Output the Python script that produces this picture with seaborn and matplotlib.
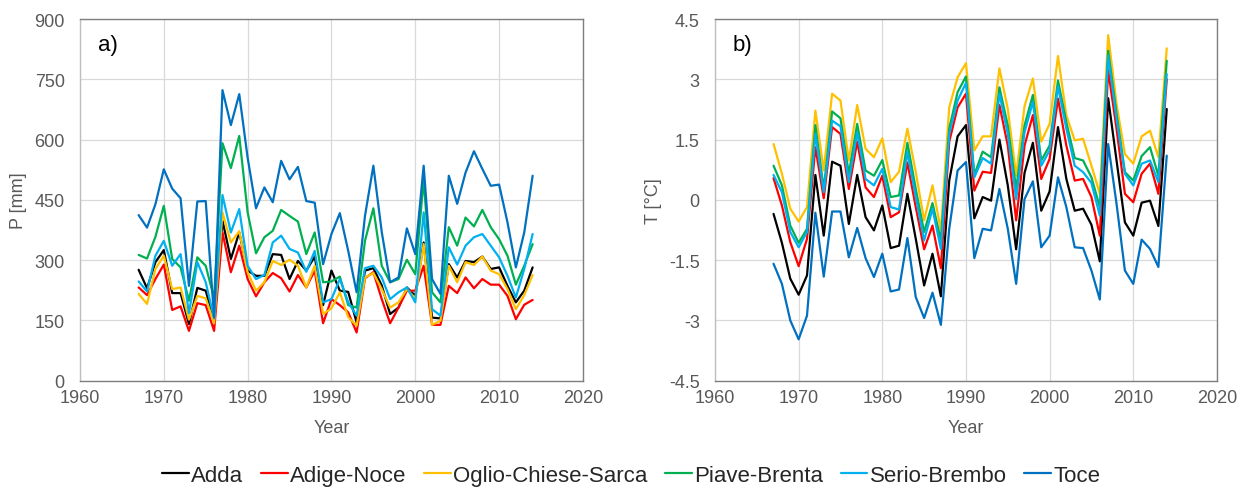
import numpy as np
import pandas as pd
import matplotlib
matplotlib.use("Agg")
import matplotlib.pyplot as plt
import seaborn as sns

years = list(range(1967, 2015))
basins = ["Adda", "Adige-Noce", "Oglio-Chiese-Sarca", "Piave-Brenta", "Serio-Brembo", "Toce"]
colors = ["#000000", "#FF0000", "#FFC000", "#00B050", "#00B0F0", "#0070C0"]

# Precipitation [mm]
p_adda = [276, 230, 295, 325, 218, 218, 141, 231, 224, 148, 398, 303, 369, 274, 261, 261,
          315, 313, 253, 298, 274, 309, 188, 274, 224, 221, 145, 274, 280, 237, 166, 182,
          232, 211, 344, 157, 155, 290, 257, 298, 295, 309, 278, 282, 236, 195, 224, 282]
p_adige = [232, 213, 253, 289, 176, 185, 124, 193, 188, 124, 369, 270, 336, 253, 210, 245,
           268, 255, 222, 263, 232, 274, 143, 203, 188, 170, 120, 255, 270, 203, 143, 182,
           224, 224, 286, 139, 139, 236, 218, 257, 230, 253, 239, 239, 211, 153, 189, 201]
p_oglio = [216, 191, 278, 311, 228, 232, 152, 211, 205, 143, 419, 344, 372, 270, 224, 245,
           298, 288, 301, 286, 232, 286, 166, 180, 220, 158, 137, 257, 268, 228, 182, 195,
           228, 205, 340, 139, 149, 286, 245, 295, 288, 309, 274, 265, 228, 178, 213, 263]
p_piave = [313, 304, 358, 435, 303, 282, 199, 307, 286, 205, 591, 529, 609, 419, 317, 357,
           373, 425, 410, 396, 315, 369, 245, 247, 259, 188, 182, 348, 429, 286, 245, 253,
           301, 265, 500, 220, 195, 382, 336, 406, 384, 425, 382, 352, 311, 239, 286, 340]
p_serio = [247, 222, 311, 348, 286, 315, 168, 295, 245, 155, 462, 369, 427, 286, 253, 263,
           344, 361, 328, 319, 271, 323, 195, 203, 253, 195, 162, 280, 286, 257, 203, 220,
           232, 195, 419, 178, 162, 332, 289, 336, 357, 365, 336, 307, 261, 207, 278, 365]
p_toce = [412, 381, 439, 526, 478, 454, 236, 446, 447, 158, 723, 636, 713, 555, 429, 481,
          444, 547, 501, 532, 447, 443, 290, 365, 417, 323, 220, 410, 535, 370, 245, 257,
          379, 315, 535, 253, 216, 510, 440, 518, 571, 527, 485, 488, 394, 282, 369, 510]

# Temperature anomaly [°C]
t_adda = [-0.35, -1.07, -1.96, -2.36, -1.88, 0.62, -0.89, 0.95, 0.85, -0.60, 0.62, -0.43,
          -0.76, -0.14, -1.20, -1.14, 0.15, -0.97, -2.13, -1.34, -2.40, 0.48, 1.58, 1.86,
          -0.46, 0.07, -0.02, 1.50, 0.36, -1.23, 0.67, 1.42, -0.27, 0.21, 1.81, 0.52,
          -0.27, -0.22, -0.62, -1.53, 2.53, 0.98, -0.56, -0.89, -0.07, -0.02, -0.65, 2.26]
t_adige = [0.54, -0.14, -1.05, -1.65, -0.97, 1.31, 0.04, 1.81, 1.64, 0.27, 1.45, 0.31,
           0.07, 0.60, -0.43, -0.31, 0.93, -0.18, -1.23, -0.64, -1.70, 1.45, 2.30, 2.64,
           0.23, 0.70, 0.67, 2.36, 1.35, -0.51, 1.35, 2.11, 0.52, 1.02, 2.52, 1.35,
           0.48, 0.52, 0.07, -0.89, 3.22, 1.77, 0.15, -0.06, 0.65, 0.90, 0.15, 3.00]
t_oglio = [1.39, 0.65, -0.22, -0.54, -0.18, 2.22, 0.73, 2.64, 2.47, 0.98, 2.36, 1.27,
           1.06, 1.53, 0.44, 0.70, 1.77, 0.69, -0.51, 0.36, -0.76, 2.30, 3.05, 3.40,
           1.23, 1.58, 1.58, 3.27, 2.26, 0.60, 2.33, 3.02, 1.45, 1.89, 3.58, 2.10,
           1.48, 1.52, 0.85, 0.15, 4.10, 2.39, 1.14, 0.90, 1.58, 1.72, 1.06, 3.77]
t_piave = [0.85, 0.36, -0.64, -1.07, -0.72, 1.86, 0.27, 2.20, 2.03, 0.65, 1.89, 0.73,
           0.60, 0.99, 0.07, 0.11, 1.42, 0.27, -0.80, -0.08, -1.01, 1.77, 2.68, 3.07,
           0.62, 1.20, 1.06, 2.80, 1.85, 0.27, 1.85, 2.61, 0.98, 1.35, 2.97, 1.93,
           1.04, 0.98, 0.56, -0.18, 3.71, 2.14, 0.69, 0.48, 1.09, 1.31, 0.60, 3.46]
t_serio = [0.62, 0.19, -0.80, -1.18, -0.80, 1.64, 0.19, 1.97, 1.83, 0.44, 1.68, 0.52,
           0.36, 0.77, -0.18, -0.24, 1.19, 0.07, -1.01, -0.22, -1.22, 1.64, 2.47, 2.91,
           0.56, 1.04, 0.90, 2.64, 1.64, 0.02, 1.68, 2.44, 0.85, 1.23, 2.82, 1.77,
           0.85, 0.69, 0.42, -0.39, 3.59, 2.01, 0.65, 0.36, 0.90, 0.98, 0.44, 3.13]
t_toce = [-1.59, -2.09, -3.00, -3.47, -2.88, -0.32, -1.91, -0.29, -0.29, -1.43, -0.70, -1.45,
          -1.92, -1.34, -2.28, -2.23, -0.95, -2.42, -2.94, -2.31, -3.11, -0.72, 0.73, 0.94,
          -1.45, -0.72, -0.76, 0.27, -0.72, -2.09, 0.02, 0.46, -1.18, -0.89, 0.56, -0.18,
          -1.18, -1.20, -1.76, -2.48, 1.39, -0.10, -1.76, -2.09, -0.99, -1.22, -1.67, 1.10]

p_series = [p_adda, p_adige, p_oglio, p_piave, p_serio, p_toce]
t_series = [t_adda, t_adige, t_oglio, t_piave, t_serio, t_toce]


def long_frame(series, name):
    rows = []
    for basin, vals in zip(basins, series):
        for yr, v in zip(years, vals):
            rows.append({"Year": yr, "Basin": basin, name: v})
    return pd.DataFrame(rows)


df_p = long_frame(p_series, "P")
df_t = long_frame(t_series, "T")

sns.set_theme(style="white")
plt.rcParams["font.family"] = ["Liberation Sans", "DejaVu Sans"]

grey_txt = "#595959"
fig = plt.figure(figsize=(12.4, 4.89), dpi=100)
ax1 = fig.add_axes([0.0645, 0.2194, 0.4056, 0.7397])
ax2 = fig.add_axes([0.5766, 0.2194, 0.4048, 0.7397])

palette = dict(zip(basins, colors))

sns.lineplot(data=df_p, x="Year", y="P", hue="Basin", hue_order=basins,
             palette=palette, linewidth=1.6, ax=ax1, legend=True)
sns.lineplot(data=df_t, x="Year", y="T", hue="Basin", hue_order=basins,
             palette=palette, linewidth=1.6, ax=ax2, legend=False)

ax1.set_ylim(0, 900)
ax1.set_yticks(np.arange(0, 901, 150))
ax2.set_ylim(-4.5, 4.5)
ax2.set_yticks([-4.5, -3, -1.5, 0, 1.5, 3, 4.5])
ax2.set_yticklabels(["-4.5", "-3", "-1.5", "0", "1.5", "3", "4.5"])

for ax, ylab, tag in [(ax1, "P [mm]", "a)"), (ax2, "T [°C]", "b)")]:
    ax.set_xlim(1960, 2020)
    ax.set_xticks(np.arange(1960, 2021, 10))
    ax.grid(True, color="#d9d9d9", linewidth=0.9)
    ax.set_axisbelow(True)
    ax.tick_params(axis="x", labelsize=13, colors=grey_txt, length=0, pad=6)
    ax.tick_params(axis="y", labelsize=13, colors=grey_txt, length=0, pad=11)
    ax.set_xlabel("Year", fontsize=13, color=grey_txt, labelpad=9)
    ax.set_ylabel(ylab, fontsize=13, color=grey_txt, labelpad=5)
    for side in ["top", "right", "bottom"]:
        ax.spines[side].set_color("#7f7f7f")
        ax.spines[side].set_linewidth(1.0)
    ax.spines["left"].set_color("#bfbfbf")
    ax.spines["left"].set_linewidth(1.0)
    ax.text(0.035, 0.93, tag, transform=ax.transAxes, fontsize=16,
            color="black", ha="left", va="center")

handles, labels = ax1.get_legend_handles_labels()
ax1.get_legend().remove()
fig.legend(handles, labels, loc="center", bbox_to_anchor=(0.509, 0.026), ncol=6,
           frameon=False, fontsize=16, handlelength=1.2, handletextpad=0.1,
           columnspacing=0.8, labelcolor="#262626")

fig.savefig("out.png", dpi=100, facecolor="white")
